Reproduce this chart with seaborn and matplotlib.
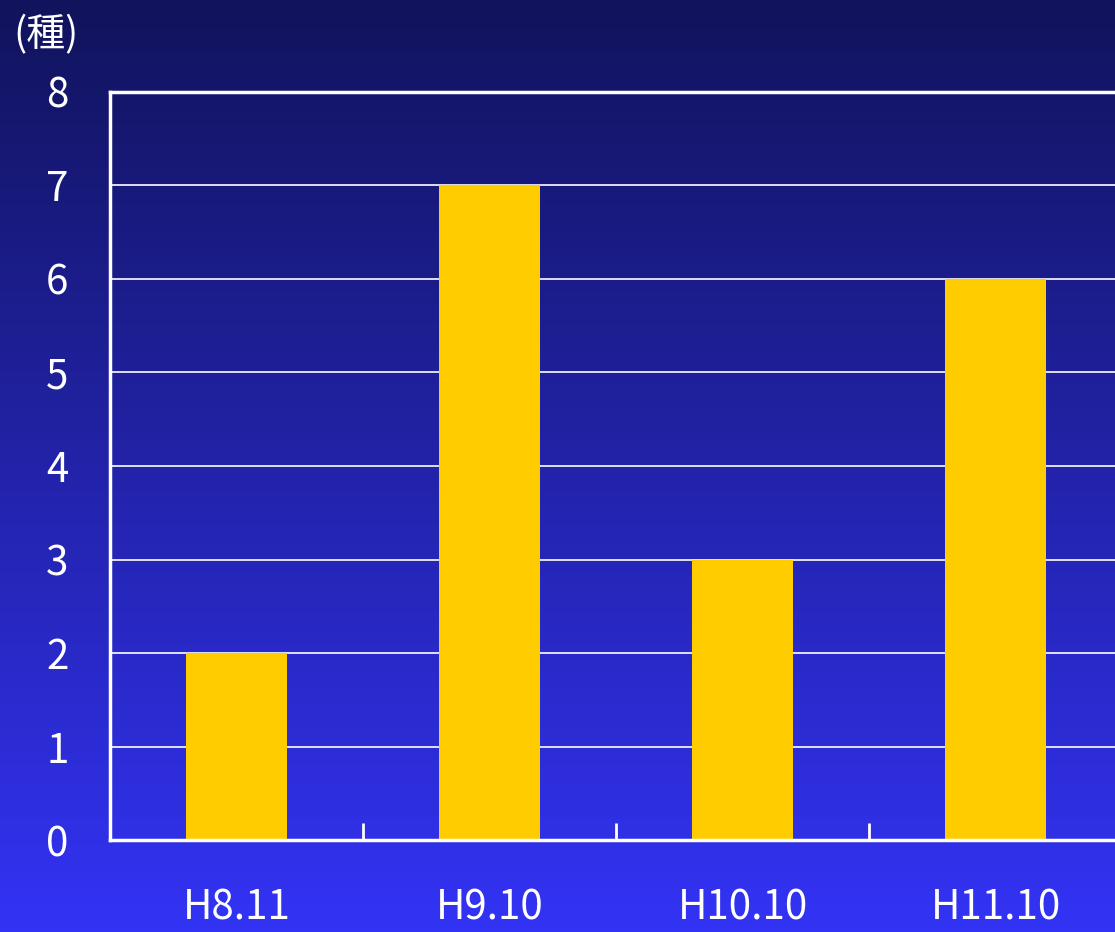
import seaborn as sns
import matplotlib.pyplot as plt
import numpy as np
import pandas as pd
from matplotlib.colors import LinearSegmentedColormap
from matplotlib.ticker import FixedLocator

# data
periods = ["H8.11", "H9.10", "H10.10", "H11.10"]
species = [2, 7, 3, 6]
y_ticks = [0, 1, 2, 3, 4, 5, 6, 7, 8]

sns.set_style("white")
plt.rcParams['font.family'] = ['Noto Sans CJK JP', 'DejaVu Sans']

fig = plt.figure(figsize=(11.15, 9.32), dpi=100)

# gradient background, dark navy on top to bright blue at the bottom
bg = fig.add_axes([0, 0, 1, 1], zorder=-10)
cmap = LinearSegmentedColormap.from_list("bg", ["#3333f5", "#11135c"])
bg.imshow(np.linspace(0, 1, 256).reshape(-1, 1), aspect="auto", cmap=cmap,
          origin="lower", extent=[0, 1, 0, 1])
bg.set_axis_off()

ax = fig.add_axes([0.0987, 0.0987, 0.9076, 0.8026])
ax.set_facecolor("none")

df = pd.DataFrame({"period": periods, "species": species})
sns.barplot(data=df, x="period", y="species", color="#ffcc00", saturation=1,
            width=0.4, linewidth=0, ax=ax, zorder=3)

ax.set_xlim(-0.5, len(periods) - 0.5)
ax.set_ylim(0, 8)
ax.set_yticks(y_ticks)
ax.grid(axis="y", color="white", linewidth=1.2, zorder=0)
ax.set_xlabel("")
ax.set_ylabel("")

for side in ["left", "bottom", "top"]:
    ax.spines[side].set_color("white")
    ax.spines[side].set_linewidth(2.5)
    ax.spines[side].set_zorder(5)
ax.spines["right"].set_visible(False)

ax.tick_params(axis="y", left=False, length=0, pad=30, labelsize=29,
               labelcolor="white")
ax.tick_params(axis="x", which="major", length=0, pad=34, labelsize=29,
               labelcolor="white")
ax.xaxis.set_minor_locator(FixedLocator([0.5, 1.5, 2.5]))
ax.tick_params(axis="x", which="minor", bottom=True, direction="in",
               length=12, width=2, color="white")

fig.text(0.012, 0.962, "(種)", color="white", fontsize=28, va="center")

fig.savefig("out.png", dpi=100)
